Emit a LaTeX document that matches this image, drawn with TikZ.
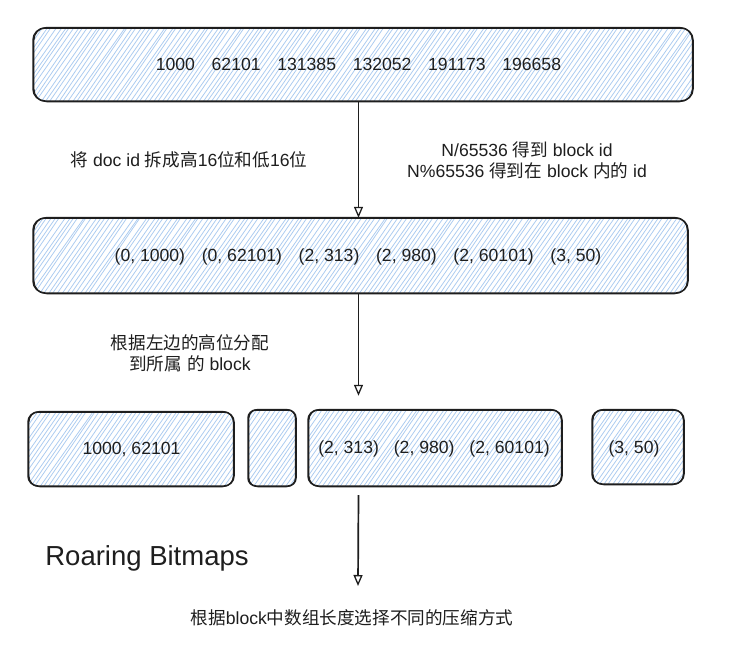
\documentclass[tikz,border=0pt]{standalone}
\usepackage{fontspec}
\setmainfont{Liberation Sans}
\newfontfamily\cjk{Noto Sans CJK SC}
\usetikzlibrary{arrows.meta}
\definecolor{hatchblue}{RGB}{170,203,240}
\definecolor{ink}{RGB}{30,30,30}
\newcommand{\sketchfill}[5]{%
  \begin{scope}
    \clip[rounded corners=#5] (#1,#2) rectangle (#3,#4);
    \pgfmathsetmacro{\hh}{#4-#2}
    \pgfmathsetmacro{\ddx}{\hh*0.7}
    \pgfmathsetmacro{\sta}{#1-\ddx}
    \pgfmathsetmacro{\nxa}{#1-\ddx+4.5}
    \foreach \xx in {\sta,\nxa,...,#3} {
      \draw[hatch] (\xx+rand*0.6,#4+1) -- ++(\ddx+1+rand*1.2,-\hh-2);
    }
  \end{scope}}
\newcommand{\sketchline}[5]{%
  \draw[outline,rounded corners=#5] (#1,#2) rectangle (#3,#4);
  \draw[outline,rounded corners=#5+1,line width=1pt] (#1+0.9,#2-0.7) rectangle (#3-0.6,#4+0.8);}
\tikzset{
  hatch/.style={draw=hatchblue,line width=0.75pt},
  outline/.style={draw=ink,line width=1.5pt},
  boxnode/.style={draw=none,inner sep=0pt},
  lbl/.style={font=\fontsize{17.6pt}{21pt}\selectfont,text=ink,align=center,inner sep=0pt},
  big/.style={font=\fontsize{27.5pt}{31pt}\selectfont,text=ink,inner sep=0pt},
  flow/.style={draw=ink,line width=1.7pt,-{Triangle[open,length=11pt,width=9pt,line width=1.3pt]}}
}
\begin{document}
\begin{tikzpicture}[x=1pt,y=-1pt]
\pgfmathsetseed{7}
\useasboundingbox (0,0) rectangle (732,654);
\fill[white] (0,0) rectangle (732,654);
% hatched fills
\sketchfill{33}{28}{693}{101}{12}
\sketchfill{33}{218}{688}{293}{12}
\sketchfill{28}{412}{234}{486}{10}
\sketchfill{248}{410}{296}{486}{8}
\sketchfill{308}{410}{562}{486}{10}
\sketchfill{592}{410}{684}{484}{10}
% outlines
\sketchline{33}{28}{693}{101}{12}
\sketchline{33}{218}{688}{293}{12}
\sketchline{28}{412}{234}{486}{10}
\sketchline{248}{410}{296}{486}{8}
\sketchline{308}{410}{562}{486}{10}
\sketchline{592}{410}{684}{484}{10}
% box nodes
\node[boxnode,minimum width=660pt,minimum height=73pt] (b1) at (363,64.5) {};
\node[boxnode,minimum width=655pt,minimum height=75pt] (b2) at (360.5,255.5) {};
\node[boxnode,minimum width=206pt,minimum height=74pt] (c1) at (131,449) {};
\node[boxnode,minimum width=48pt,minimum height=76pt] (c2) at (272,448) {};
\node[boxnode,minimum width=254pt,minimum height=76pt] (c3) at (435,448) {};
\node[boxnode,minimum width=92pt,minimum height=74pt] (c4) at (638,447) {};
% texts
\node[lbl] (t1) at (358.5,64) {1000\hspace{0.95em}62101\hspace{0.95em}131385\hspace{0.95em}132052\hspace{0.95em}191173\hspace{0.95em}196658};
\node[lbl] (t2) at (358,257) {(0, 1000)\hspace{0.95em}(0, 62101)\hspace{0.95em}(2, 313)\hspace{0.95em}(2, 980)\hspace{0.95em}(2, 60101)\hspace{0.95em}(3, 50)};
\node[lbl] (t3) at (131.5,449) {1000, 62101};
\node[lbl] (t4) at (434,449) {(2, 313)\hspace{0.85em}(2, 980)\hspace{0.85em}(2, 60101)};
\node[lbl] (t5) at (634,449) {(3, 50)};
\node[lbl] (n1) at (189,160) {{\cjk 将} doc id {\cjk 拆成高}16{\cjk 位和低}16{\cjk 位}};
\node[lbl] (n2) at (527,160) {N/65536 {\cjk 得到} block id\\N\%65536 {\cjk 得到在} block {\cjk 内的} id};
\node[lbl] (n3) at (190,353) {{\cjk 根据左边的高位分配}\\{\cjk 到所属} {\cjk 的} block};
\node[big] (rb) at (147,558) {Roaring Bitmaps};
\node[lbl] (n4) at (352,618) {{\cjk 根据}block{\cjk 中数组长度选择不同的压缩方式}};
% arrows
\coordinate (a3end) at (358,586);
\draw[flow] (b1.south -| t1.south) -- (b2.north -| t1.south);
\draw[flow] (b2.south -| t1.south) -- ([yshift=14pt]c3.north -| t1.south);
\draw[flow] ([yshift=-9pt]c3.south -| t1.south) -- (a3end);
\end{tikzpicture}
\end{document}
